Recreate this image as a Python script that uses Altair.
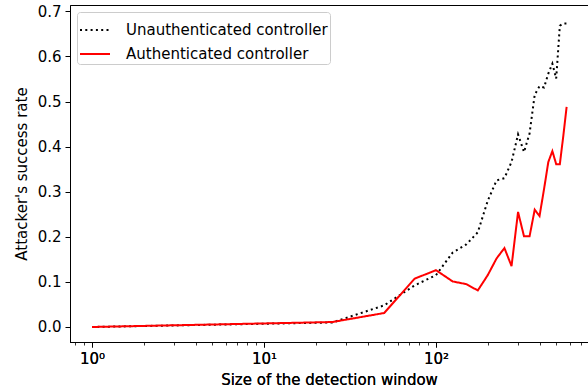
import altair as alt
import pandas as pd

# ---- data ----
window = [1, 25, 50, 75, 100, 125, 150, 175, 200, 225, 250, 275, 300,
          325, 350, 375, 400, 425, 450, 475, 500, 525, 550, 575]
unauth = [0.0, 0.010, 0.048, 0.092, 0.115, 0.165, 0.183, 0.210, 0.280, 0.325,
          0.330, 0.366, 0.427, 0.388, 0.429, 0.515, 0.534, 0.531, 0.562, 0.584,
          0.551, 0.668, 0.673, 0.673]
auth = [0.0, 0.011, 0.031, 0.107, 0.126, 0.101, 0.095, 0.081, 0.115, 0.152,
        0.175, 0.135, 0.255, 0.201, 0.201, 0.260, 0.246, 0.306, 0.366, 0.390,
        0.361, 0.361, 0.424, 0.488]
series_names = ["Unauthenticated controller", "Authenticated controller"]
series_colors = ["black", "red"]
x_major = [1, 10, 100]
x_minor = [0.8, 0.9, 2, 3, 4, 5, 6, 7, 8, 9, 20, 30, 40, 50, 60, 70, 80, 90,
           200, 300, 400, 500, 600, 700]
y_ticks = [0.0, 0.1, 0.2, 0.3, 0.4, 0.5, 0.6, 0.7]

n = len(window)
df = pd.DataFrame({
    "window": window + window,
    "rate": unauth + auth,
    "series": [series_names[0]] * n + [series_names[1]] * n,
})

FONT = "DejaVu Sans"
FS = 15

xscale = alt.Scale(type="log", domain=[0.7447, 765.4], nice=False)
yscale = alt.Scale(domain=[-0.0333, 0.714], nice=False, zero=False)

x_enc = alt.X(
    "window:Q", scale=xscale,
    axis=alt.Axis(values=x_major, title="Size of the detection window",
                  labelExpr="datum.value < 5 ? '10⁰' : (datum.value < 50 ? '10¹' : '10²')",
                  tickSize=5, labelPadding=4, titlePadding=6, orient="bottom"),
)
y_enc = alt.Y(
    "rate:Q", scale=yscale,
    axis=alt.Axis(values=y_ticks, format=".1f", title="Attacker's success rate",
                  tickSize=5, labelPadding=4, titlePadding=8),
)
color = alt.Color("series:N",
                  scale=alt.Scale(domain=series_names, range=series_colors),
                  legend=alt.Legend(title=None))
dash = alt.StrokeDash("series:N",
                      scale=alt.Scale(domain=series_names, range=[[2, 3.3], [1, 0]]),
                      legend=alt.Legend(title=None))

base = alt.Chart(df).mark_line(strokeWidth=2, clip=True).encode(
    x=x_enc, y=y_enc, color=color, strokeDash=dash
)
black_layer = base.transform_filter(alt.datum.series == series_names[0])
red_layer = base.transform_filter(alt.datum.series == series_names[1])

minor_layer = alt.Chart(df).mark_point(opacity=0).encode(
    x=alt.X("window:Q", scale=xscale,
            axis=alt.Axis(values=x_minor, labels=False, title=None, domain=False,
                          tickSize=3, tickWidth=0.8, orient="bottom")),
    y=alt.Y("rate:Q", scale=yscale),
)

chart = alt.layer(minor_layer, black_layer, red_layer).resolve_axis(
    x="independent"
).properties(
    width=518, height=337,
    autosize=alt.AutoSizeParams(type="none"),
    padding={"left": 70, "top": 5, "right": 0, "bottom": 50},
    background="white",
).configure_view(
    stroke="black", strokeWidth=1
).configure_axis(
    grid=False, domainColor="black", tickColor="black", labelColor="black",
    titleColor="black", labelFont=FONT, titleFont=FONT, labelFontSize=FS,
    titleFontSize=FS, titleFontWeight="normal", domainWidth=1, tickWidth=1,
).configure_legend(
    orient="top-left", offset=7, fillColor="white", strokeColor="#cccccc",
    cornerRadius=3, padding=2, labelFont=FONT, labelFontSize=FS,
    labelColor="black", symbolType="stroke", symbolSize=900,
    symbolStrokeWidth=2, rowPadding=-10, labelOffset=15, labelLimit=0,
)

chart.save("out.html", embed_options={"renderer": "svg", "actions": False})
